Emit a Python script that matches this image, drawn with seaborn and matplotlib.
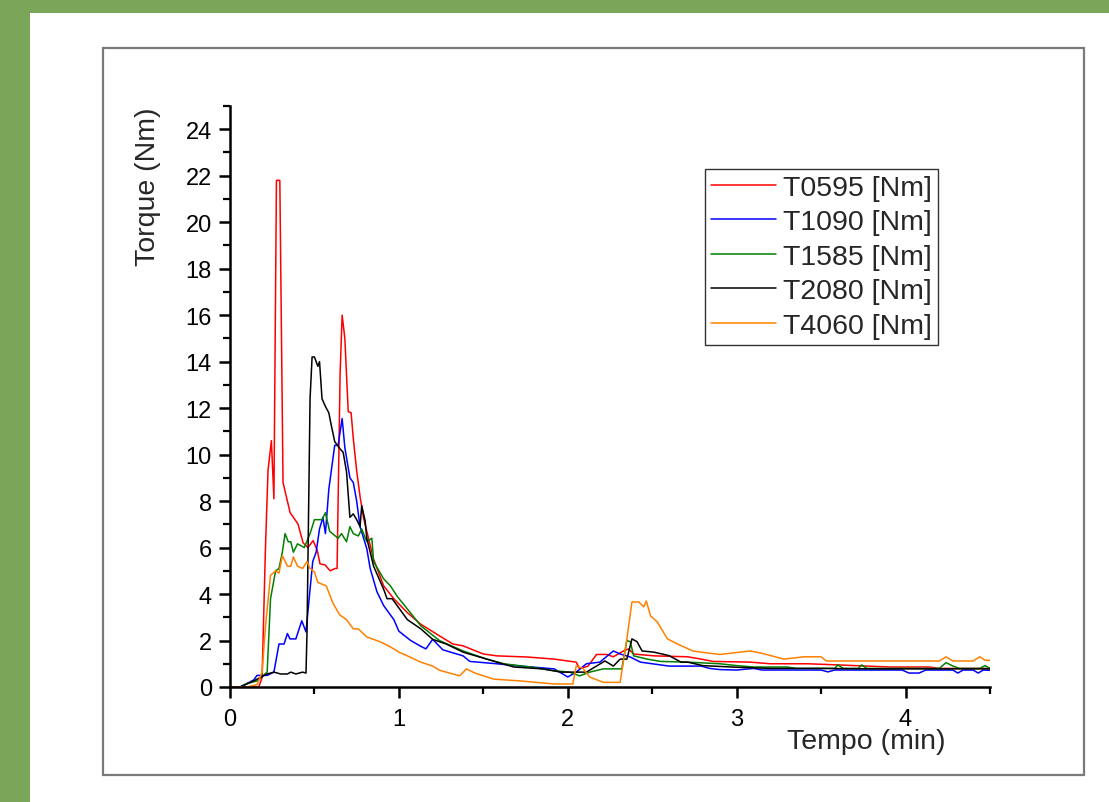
import numpy as np
import pandas as pd
import matplotlib
matplotlib.use("Agg")
import matplotlib.pyplot as plt
from matplotlib.patches import Rectangle
from matplotlib.ticker import MultipleLocator
import seaborn as sns

# ---------------- data ----------------
series_names = ["T0595 [Nm]", "T1090 [Nm]", "T1585 [Nm]", "T2080 [Nm]", "T4060 [Nm]"]

t_0595 = [0, 0.17, 0.19, 0.21, 0.225, 0.245, 0.26, 0.275, 0.295, 0.314, 0.356, 0.385, 0.403,
          0.433, 0.462, 0.492, 0.516, 0.533, 0.563, 0.593, 0.622, 0.634, 0.652, 0.664, 0.68,
          0.70, 0.717, 0.73, 0.75, 0.77, 0.79, 0.83, 0.85, 0.91, 0.97, 1.05, 1.13, 1.24, 1.32,
          1.38, 1.5, 1.58, 1.76, 1.92, 2.05, 2.07, 2.12, 2.17, 2.23, 2.27, 2.33, 2.36, 2.39,
          2.51, 2.71, 2.79, 2.86, 3.08, 3.2, 3.42, 3.6, 3.91, 4.0, 4.14, 4.2, 4.5]
v_0595 = [0, 0, 0.4, 6.0, 9.3, 10.6, 8.1, 21.8, 21.8, 8.8, 7.5, 7.2, 7.0,
          6.2, 6.0, 6.3, 5.9, 5.3, 5.25, 5.0, 5.1, 5.1, 13.5, 16.0, 15.0,
          11.85, 11.8, 10.7, 9.3, 8.2, 7.3, 6.1, 5.5, 4.35, 3.8, 3.2, 2.7, 2.2, 1.85,
          1.77, 1.42, 1.34, 1.29, 1.2, 1.07, 0.78, 0.9, 1.4, 1.4, 1.3, 1.55, 1.64, 1.42,
          1.34, 1.3, 1.2, 1.1, 1.07, 1.0, 1.0, 0.95, 0.86, 0.86, 0.86, 0.8, 0.8]

t_1090 = [0, 0.06, 0.1, 0.14, 0.16, 0.22, 0.26, 0.29, 0.32, 0.34, 0.355, 0.39, 0.425, 0.45,
          0.474, 0.49, 0.51, 0.53, 0.55, 0.565, 0.585, 0.62, 0.64, 0.664, 0.68, 0.71, 0.73,
          0.75, 0.77, 0.81, 0.83, 0.87, 0.91, 0.97, 1.0, 1.07, 1.13, 1.16, 1.2, 1.26, 1.38,
          1.42, 1.58, 1.72, 1.92, 2.0, 2.05, 2.11, 2.19, 2.27, 2.31, 2.37, 2.43, 2.6, 2.79,
          2.84, 2.9, 3.0, 3.1, 3.15, 3.5, 3.54, 3.58, 3.98, 4.02, 4.08, 4.12, 4.28, 4.31,
          4.34, 4.4, 4.43, 4.46, 4.5]
v_1090 = [0, 0, 0.15, 0.3, 0.5, 0.5, 0.64, 1.85, 1.85, 2.3, 2.07, 2.07, 2.85, 2.37,
          4.2, 5.4, 5.8, 6.8, 7.3, 6.6, 8.5, 10.4, 10.4, 11.55, 10.3, 9.0, 8.8,
          8.0, 6.9, 5.95, 5.1, 4.1, 3.5, 2.9, 2.4, 2.0, 1.75, 1.64, 2.05, 1.6, 1.34,
          1.1, 1.0, 0.9, 0.78, 0.43, 0.64, 1.0, 1.07, 1.55, 1.42, 1.29, 1.07, 0.9, 0.9,
          0.8, 0.75, 0.73, 0.8, 0.73, 0.73, 0.65, 0.73, 0.73, 0.6, 0.6, 0.73, 0.73, 0.6,
          0.73, 0.73, 0.6, 0.73, 0.72]

t_1585 = [0, 0.06, 0.1, 0.16, 0.22, 0.24, 0.27, 0.29, 0.31, 0.326, 0.345, 0.36, 0.375, 0.4,
          0.44, 0.474, 0.5, 0.545, 0.565, 0.59, 0.64, 0.66, 0.69, 0.71, 0.73, 0.76, 0.78,
          0.81, 0.84, 0.85, 0.91, 0.95, 0.99, 1.05, 1.13, 1.24, 1.38, 1.52, 1.62, 1.78,
          1.92, 2.01, 2.07, 2.13, 2.21, 2.32, 2.35, 2.37, 2.39, 2.47, 2.55, 2.71, 2.9, 3.0,
          3.1, 3.3, 3.35, 3.58, 3.6, 3.63, 3.72, 3.74, 3.77, 4.2, 4.24, 4.28, 4.32, 4.44,
          4.47, 4.5]
v_1585 = [0, 0, 0.15, 0.26, 0.64, 3.8, 5.0, 5.1, 5.8, 6.6, 6.25, 6.25, 5.8, 6.16,
          6.0, 6.6, 7.2, 7.2, 7.5, 6.7, 6.4, 6.6, 6.25, 6.9, 6.6, 6.5, 6.8,
          6.25, 6.4, 5.4, 4.65, 4.35, 3.9, 3.36, 2.63, 2.0, 1.55, 1.2, 1.0, 0.86,
          0.7, 0.64, 0.48, 0.64, 0.78, 0.78, 2.0, 1.95, 1.34, 1.2, 1.1, 1.07, 1.0, 0.92,
          0.86, 0.86, 0.8, 0.8, 0.95, 0.8, 0.8, 0.95, 0.8, 0.8, 1.05, 0.9, 0.8, 0.8,
          0.92, 0.8]

t_2080 = [0, 0.06, 0.14, 0.22, 0.26, 0.3, 0.34, 0.36, 0.39, 0.43, 0.45, 0.456, 0.474, 0.486,
          0.5, 0.52, 0.53, 0.545, 0.565, 0.585, 0.6, 0.62, 0.65, 0.67, 0.69, 0.71, 0.73,
          0.75, 0.77, 0.78, 0.8, 0.81, 0.85, 0.91, 0.93, 0.96, 1.02, 1.05, 1.13, 1.2, 1.28,
          1.38, 1.52, 1.68, 1.85, 1.96, 2.11, 2.17, 2.22, 2.27, 2.31, 2.35, 2.38, 2.41, 2.44,
          2.51, 2.6, 2.67, 2.71, 2.8, 3.0, 3.2, 3.5, 3.8, 4.1, 4.5]
v_2080 = [0, 0, 0.26, 0.56, 0.64, 0.56, 0.56, 0.64, 0.56, 0.64, 0.6, 2.37, 12.4, 14.2,
          14.2, 13.8, 14.0, 12.4, 12.07, 11.8, 11.25, 10.56, 10.26, 10.1, 9.26, 7.3, 7.45,
          7.2, 6.9, 7.8, 7.15, 6.4, 5.2, 4.2, 3.8, 3.8, 3.2, 2.9, 2.5, 2.05, 1.85,
          1.5, 1.2, 0.86, 0.78, 0.64, 0.64, 0.9, 1.12, 0.9, 1.2, 1.2, 2.07, 1.95, 1.55,
          1.5, 1.35, 1.07, 1.07, 0.92, 0.85, 0.8, 0.8, 0.78, 0.78, 0.78]

t_4060 = [0, 0.1, 0.16, 0.19, 0.21, 0.24, 0.27, 0.29, 0.31, 0.34, 0.36, 0.375, 0.4, 0.43,
          0.456, 0.474, 0.5, 0.52, 0.57, 0.61, 0.65, 0.69, 0.73, 0.76, 0.81, 0.85, 0.89,
          0.93, 0.97, 1.0, 1.05, 1.13, 1.2, 1.24, 1.3, 1.36, 1.4, 1.45, 1.56, 1.72, 1.92,
          2.03, 2.05, 2.09, 2.13, 2.21, 2.31, 2.35, 2.38, 2.42, 2.45, 2.465, 2.49, 2.53,
          2.59, 2.65, 2.74, 2.79, 2.9, 3.02, 3.08, 3.15, 3.28, 3.4, 3.5, 3.53, 3.8, 4.2,
          4.24, 4.28, 4.4, 4.44, 4.47, 4.5]
v_4060 = [0, 0, 0.1, 0.64, 2.6, 4.8, 5.0, 4.9, 5.65, 5.2, 5.2, 5.6, 5.2, 5.1,
          5.4, 5.1, 4.95, 4.5, 4.35, 3.6, 3.1, 2.9, 2.5, 2.5, 2.15, 2.05, 1.94,
          1.8, 1.64, 1.5, 1.34, 1.07, 0.9, 0.72, 0.6, 0.48, 0.78, 0.6, 0.34, 0.26, 0.13,
          0.13, 0.9, 0.8, 0.43, 0.2, 0.2, 2.07, 3.66, 3.66, 3.45, 3.7, 3.06, 2.8,
          2.07, 1.85, 1.55, 1.5, 1.4, 1.5, 1.55, 1.45, 1.2, 1.3, 1.3, 1.12, 1.12, 1.12,
          1.3, 1.12, 1.12, 1.3, 1.15, 1.15]

series_t = [t_0595, t_1090, t_1585, t_2080, t_4060]
series_v = [v_0595, v_1090, v_1585, v_2080, v_4060]
colors = ["#FF0000", "#0000FF", "#008000", "#000000", "#FF8000"]

x_ticks = [0, 1, 2, 3, 4]
y_ticks = list(range(0, 25, 2))

# ---------------- figure ----------------
sns.set_style("ticks")
plt.rcParams["font.family"] = ["Liberation Sans", "DejaVu Sans"]

W, H = 1109, 803
fig = plt.figure(figsize=(W / 100, H / 100), dpi=100, facecolor="white")

# green frame of the slide
fig.patches.append(Rectangle((0, 1 - 14 / H), 1, 14 / H, transform=fig.transFigure,
                             facecolor="#7BA65A", edgecolor="none", zorder=0))
fig.patches.append(Rectangle((0, 0), 30 / W, 1, transform=fig.transFigure,
                             facecolor="#7BA65A", edgecolor="none", zorder=0))
# grey inner box
fig.patches.append(Rectangle((103 / W, 1 - 776 / H), (1084 - 103) / W, (776 - 49) / H,
                             transform=fig.transFigure, facecolor="none",
                             edgecolor="#7A7A7A", linewidth=1.6, zorder=1))

ax = fig.add_axes([230 / W, 1 - 688 / H, (990 - 230) / W, (688 - 107) / H])
ax.set_facecolor("none")

frames = []
for name, t, v in zip(series_names, series_t, series_v):
    frames.append(pd.DataFrame({"Tempo": t, "Torque": v, "Serie": name}))
df = pd.concat(frames, ignore_index=True)

sns.lineplot(data=df, x="Tempo", y="Torque", hue="Serie", hue_order=series_names,
             palette=colors, estimator=None, sort=False, linewidth=1.1, ax=ax)

ax.set_xlim(0, 4.5)
ax.set_ylim(0, 25)
ax.set_xticks(x_ticks)
ax.set_yticks(y_ticks)
ax.xaxis.set_minor_locator(MultipleLocator(0.5))
ax.yaxis.set_minor_locator(MultipleLocator(1))

for s in ["top", "right"]:
    ax.spines[s].set_visible(False)
for s in ["left", "bottom"]:
    ax.spines[s].set_linewidth(1.8)
    ax.spines[s].set_color("black")

ax.tick_params(which="major", direction="out", length=8, width=1.8, colors="black",
               labelsize=17)
ax.tick_params(which="minor", direction="out", length=5, width=1.6, colors="black")
ax.tick_params(axis="x", which="major", pad=7)
ax.tick_params(axis="y", which="major", pad=5)

ax.set_xlabel("Tempo (min)", fontsize=20.5)
ax.set_ylabel("Torque (Nm)", fontsize=20.5)
ax.xaxis.set_label_coords(0.837, -0.071)
ax.yaxis.set_label_coords(-0.108, 0.862)
ax.xaxis.label.set_va("top")
ax.yaxis.label.set_va("center")

leg = ax.legend(loc="upper left", bbox_to_anchor=(705 / W, 1 - 170 / H),
                bbox_transform=fig.transFigure, borderaxespad=0, fontsize=20.5,
                frameon=True, fancybox=False, shadow=False, handlelength=2.3,
                handletextpad=0.25, labelspacing=0.3, borderpad=0.2, title=None)
leg.get_frame().set_edgecolor("black")
leg.get_frame().set_linewidth(1.0)
for line in leg.get_lines():
    line.set_linewidth(1.1)

fig.savefig("out.png", dpi=100, facecolor="white")
